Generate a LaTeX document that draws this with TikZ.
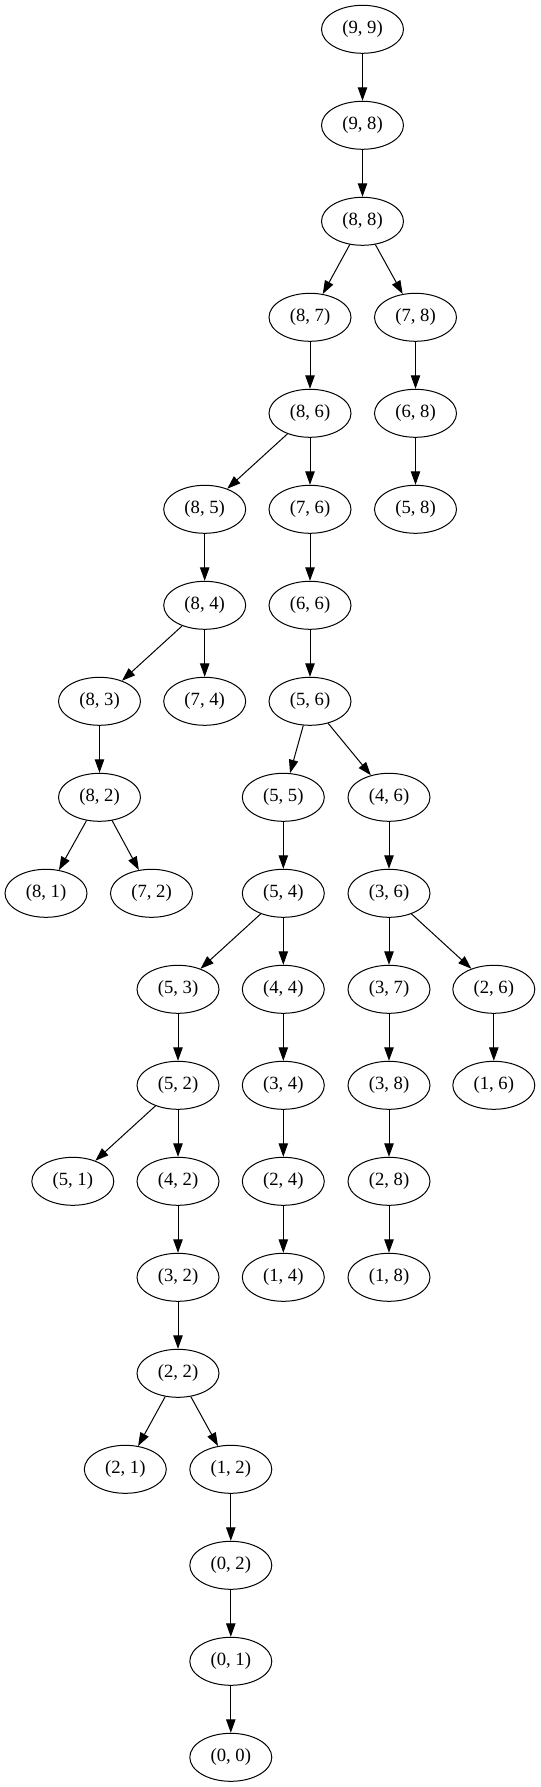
\documentclass[tikz,border=0pt]{standalone}
\usepackage{fontspec}
\setmainfont{Liberation Serif}
\usetikzlibrary{shapes.geometric,arrows.meta}
\begin{document}
\begin{tikzpicture}[x=0.75pt,y=-0.75pt,
  st/.style={ellipse,draw,line width=0.75pt,minimum width=61.5pt,minimum height=36pt,inner sep=0pt,font=\fontsize{14pt}{16pt}\selectfont},
  ed/.style={line width=0.75pt,-{Triangle[length=10pt,width=7pt]}}]
\useasboundingbox (0,0) rectangle (540,1787);
\def\r#1{29.3+96*#1}
\node[st] (n99) at (362.5,{\r{0}}) {(9, 9)};
\node[st] (n98) at (362.5,{\r{1}}) {(9, 8)};
\node[st] (n88) at (362.5,{\r{2}}) {(8, 8)};
\node[st] (n87) at (310,{\r{3}}) {(8, 7)};
\node[st] (n78) at (415.5,{\r{3}}) {(7, 8)};
\node[st] (n86) at (310,{\r{4}}) {(8, 6)};
\node[st] (n68) at (415.5,{\r{4}}) {(6, 8)};
\node[st] (n85) at (204.7,{\r{5}}) {(8, 5)};
\node[st] (n76) at (310,{\r{5}}) {(7, 6)};
\node[st] (n58) at (415.5,{\r{5}}) {(5, 8)};
\node[st] (n84) at (204.7,{\r{6}}) {(8, 4)};
\node[st] (n66) at (310,{\r{6}}) {(6, 6)};
\node[st] (n83) at (99.5,{\r{7}}) {(8, 3)};
\node[st] (n74) at (204.7,{\r{7}}) {(7, 4)};
\node[st] (n56) at (310,{\r{7}}) {(5, 6)};
\node[st] (n82) at (99.5,{\r{8}}) {(8, 2)};
\node[st] (n55) at (283.3,{\r{8}}) {(5, 5)};
\node[st] (n46) at (389,{\r{8}}) {(4, 6)};
\node[st] (n81) at (46,{\r{9}}) {(8, 1)};
\node[st] (n72) at (151.5,{\r{9}}) {(7, 2)};
\node[st] (n54) at (283.3,{\r{9}}) {(5, 4)};
\node[st] (n36) at (389,{\r{9}}) {(3, 6)};
\node[st] (n53) at (178,{\r{10}}) {(5, 3)};
\node[st] (n44) at (283.3,{\r{10}}) {(4, 4)};
\node[st] (n37) at (389,{\r{10}}) {(3, 7)};
\node[st] (n26) at (493.8,{\r{10}}) {(2, 6)};
\node[st] (n52) at (178,{\r{11}}) {(5, 2)};
\node[st] (n34) at (283.3,{\r{11}}) {(3, 4)};
\node[st] (n38) at (389,{\r{11}}) {(3, 8)};
\node[st] (n16) at (493.8,{\r{11}}) {(1, 6)};
\node[st] (n51) at (72.8,{\r{12}}) {(5, 1)};
\node[st] (n42) at (178,{\r{12}}) {(4, 2)};
\node[st] (n24) at (283.3,{\r{12}}) {(2, 4)};
\node[st] (n28) at (389,{\r{12}}) {(2, 8)};
\node[st] (n32) at (178,{\r{13}}) {(3, 2)};
\node[st] (n14) at (283.3,{\r{13}}) {(1, 4)};
\node[st] (n18) at (389,{\r{13}}) {(1, 8)};
\node[st] (n22) at (178,{\r{14}}) {(2, 2)};
\node[st] (n21) at (125.3,{\r{15}}) {(2, 1)};
\node[st] (n12) at (230.8,{\r{15}}) {(1, 2)};
\node[st] (n02) at (230.8,{\r{16}}) {(0, 2)};
\node[st] (n01) at (230.8,{\r{17}}) {(0, 1)};
\node[st] (n00) at (230.8,{\r{18}}) {(0, 0)};
\foreach \a/\b in {99/98,98/88,88/87,88/78,87/86,78/68,68/58,86/85,86/76,85/84,84/83,84/74,83/82,82/81,82/72,76/66,66/56,56/55,56/46,55/54,54/53,54/44,53/52,52/51,52/42,42/32,32/22,22/21,22/12,12/02,02/01,01/00,44/34,34/24,24/14,46/36,36/37,36/26,37/38,38/28,28/18,26/16}
  \draw[ed] (n\a) -- (n\b);
\end{tikzpicture}
\end{document}
